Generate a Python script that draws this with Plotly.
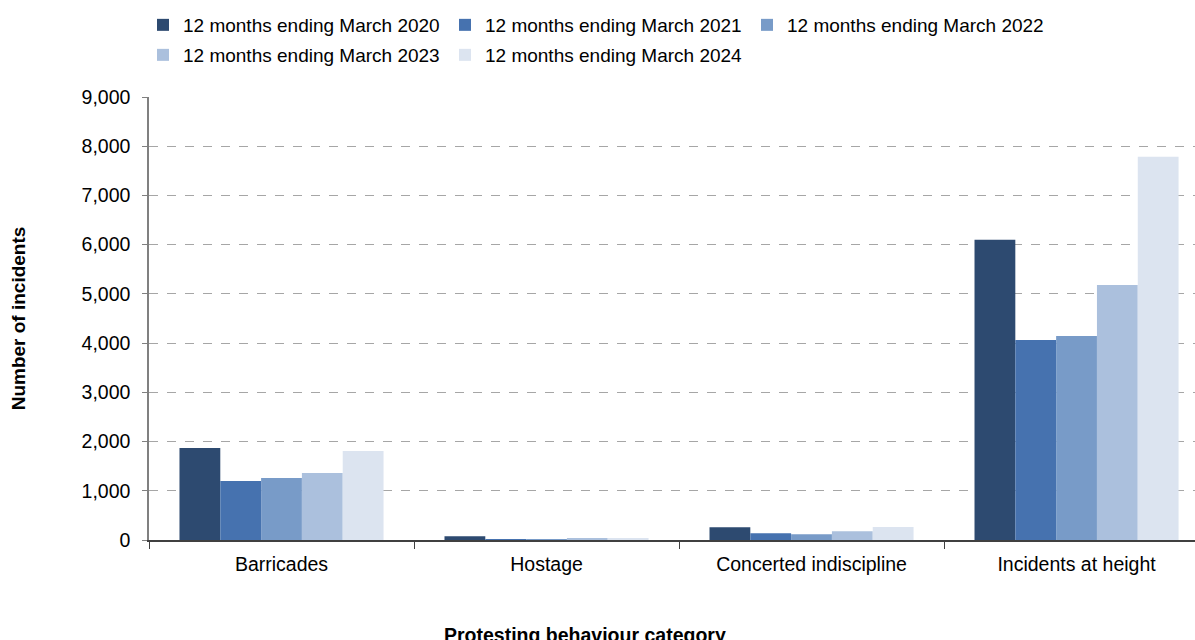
import plotly.graph_objects as go

categories = ["Barricades", "Hostage", "Concerted indiscipline", "Incidents at height"]
series_names = [
    "12 months ending March 2020",
    "12 months ending March 2021",
    "12 months ending March 2022",
    "12 months ending March 2023",
    "12 months ending March 2024",
]
values_2020 = [1870, 75, 258, 6100]
values_2021 = [1200, 20, 136, 4065]
values_2022 = [1260, 20, 116, 4146]
values_2023 = [1360, 35, 177, 5183]
values_2024 = [1810, 30, 264, 7785]
y_ticks = [0, 1000, 2000, 3000, 4000, 5000, 6000, 7000, 8000, 9000]
y_tick_labels = ["0", "1,000", "2,000", "3,000", "4,000", "5,000", "6,000", "7,000", "8,000", "9,000"]
x_title = "Protesting behaviour category"
y_title = "Number of incidents"

colors = ["#2D4A70", "#4672AF", "#789BC8", "#ABC0DD", "#DCE4F0"]
all_values = [values_2020, values_2021, values_2022, values_2023, values_2024]
legend_ids = ["legend", "legend", "legend", "legend2", "legend2"]

fig = go.Figure()
for name, vals, col, lg in zip(series_names, all_values, colors, legend_ids):
    fig.add_trace(go.Bar(
        x=categories, y=vals, name=name,
        marker=dict(color=col, line=dict(width=0)),
        legend=lg,
    ))

font_family = "Liberation Sans, Arial, sans-serif"
legend_font = dict(family=font_family, size=19, color="#000000")

fig.update_layout(
    width=1195, height=640,
    margin=dict(l=149, r=0, t=97, b=100, autoexpand=False),
    paper_bgcolor="white", plot_bgcolor="white",
    barmode="group", bargap=0.23, bargroupgap=0,
    font=dict(family=font_family, size=19.5, color="#000000"),
    showlegend=True,
    legend=dict(
        orientation="h", xref="container", yref="container",
        x=143/1195, y=1-6/640, xanchor="left", yanchor="top",
        font=legend_font, entrywidth=257, entrywidthmode="pixels",
        bgcolor="rgba(0,0,0,0)", itemwidth=30, traceorder="normal",
    ),
    legend2=dict(
        orientation="h", xref="container", yref="container",
        x=143/1195, y=1-36/640, xanchor="left", yanchor="top",
        font=legend_font, entrywidth=257, entrywidthmode="pixels",
        bgcolor="rgba(0,0,0,0)", itemwidth=30, traceorder="normal",
    ),
    xaxis=dict(
        range=[-0.5, 3.447], automargin=False,
        showline=True, linecolor="#404040", linewidth=1.5,
        ticks="outside", tickson="boundaries", ticklen=7, tickcolor="#404040",
        ticklabelstandoff=6,
        tickfont=dict(size=19.5),
        showgrid=False, zeroline=False,
    ),
    yaxis=dict(
        range=[0, 9000], automargin=False,
        tickvals=y_ticks, ticktext=y_tick_labels,
        showline=True, linecolor="#808080", linewidth=1.5,
        ticks="outside", ticklen=5, tickcolor="#808080",
        ticklabelstandoff=8,
        tickfont=dict(size=19.5),
        showgrid=True, gridcolor="#A6A6A6", griddash="dash", gridwidth=1,
        zeroline=False,
        title=dict(text="<b>" + y_title + "</b>", font=dict(size=19), standoff=51),
    ),
    annotations=[dict(
        text="<b>" + x_title + "</b>", xref="paper", yref="paper",
        x=(584.5 - 149) / 1046, y=0, xanchor="center", yanchor="top",
        yshift=-82, showarrow=False, font=dict(size=19.5, color="#000000"),
    )],
)

fig.write_html(
    "out.html",
    config={"displayModeBar": False},
    post_script="document.body.style.margin='0';document.body.style.overflow='hidden';",
)
